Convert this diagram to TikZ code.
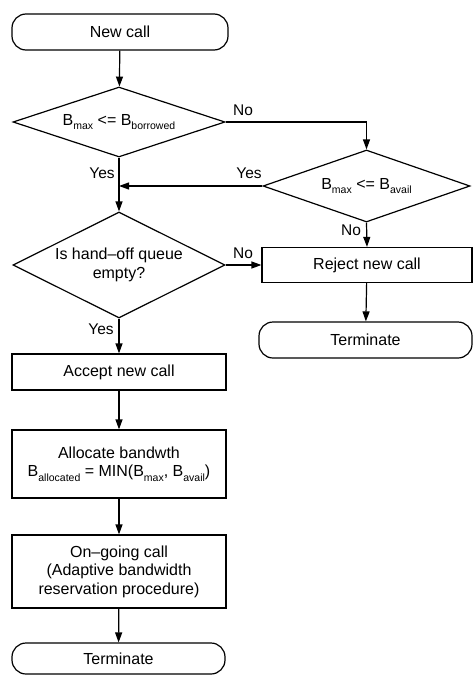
\documentclass[tikz,border=0pt]{standalone}
\usepackage{fontspec}
\setmainfont{Liberation Sans}
\usetikzlibrary{shapes.geometric,arrows.meta}
\newcommand\lowsub[1]{\raisebox{-0.5ex}{\fontsize{10.5}{10.5}\selectfont #1}}
\begin{document}
\begin{tikzpicture}[x=1pt,y=-1pt, font=\fontsize{16}{18.5}\selectfont,
  line width=1.2pt,
  box/.style={draw, rectangle, minimum width=214pt, align=center, inner sep=1pt},
  term/.style={draw, rectangle, rounded corners=14pt, minimum width=216pt, minimum height=36pt, inner sep=1pt},
  dec/.style={draw, diamond, inner sep=0pt, align=center},
  arr/.style={-{Triangle[length=10pt,width=7pt]}},
  lbl/.style={font=\fontsize{15.5}{16}\selectfont, inner sep=1pt}]
\useasboundingbox (0,0) rectangle (473,675);
\node[term] (start) at (120,32) {New call};
\node[dec, aspect=3, minimum width=212pt, minimum height=70pt] (d1) at (119,122) {B\lowsub{max} <= B\lowsub{borrowed}};
\node[dec, aspect=3, minimum width=207pt, minimum height=72pt] (d2) at (366.5,186) {B\lowsub{max} <= B\lowsub{avail}};
\node[dec, aspect=2, minimum width=212pt, minimum height=106pt] (d3) at (119,265) {Is hand–off queue\\empty?};
\node[box, minimum width=210pt, minimum height=35pt] (rej) at (367,265) {Reject new call};
\node[term, minimum width=213pt] (t2) at (365.5,340) {Terminate};
\node[box, minimum height=36pt] (acc) at (119,372) {Accept new call};
\node[box, minimum height=68pt] (alloc) at (119,464) {Allocate bandwth\\B\lowsub{allocated} = MIN(B\lowsub{max}, B\lowsub{avail})};
\node[box, minimum height=73pt] (ong) at (119,571.5) {On–going call\\(Adaptive bandwidth\\reservation procedure)};
\node[term, minimum width=213pt, minimum height=31pt] (t1) at (118.5,658.5) {Terminate};

\draw[arr] (start) -- (d1);
\draw[arr] (d1.east) -| (d2.north);
\draw[arr] (d1.south) -- (d3.north);
\coordinate (j) at (d1.south |- d2.west);
\draw[arr] (d2.west) -- (j);
\draw[arr] (d2.south) -- (rej.north);
\draw[arr] (d3.east) -- (rej.west);
\draw[arr] (rej) -- (t2);
\draw[arr] (d3.south) -- (acc.north);
\draw[arr] (acc) -- (alloc);
\draw[arr] (alloc) -- (ong);
\draw[arr] (ong) -- (t1);

\node[lbl] (l1) at (243,110) {No};
\node[lbl] (l2) at (102,173) {Yes};
\node[lbl] (l3) at (249,173) {Yes};
\node[lbl] (l4) at (351,230) {No};
\node[lbl] (l5) at (243,253) {No};
\node[lbl] (l6) at (101,329) {Yes};
\end{tikzpicture}
\end{document}
